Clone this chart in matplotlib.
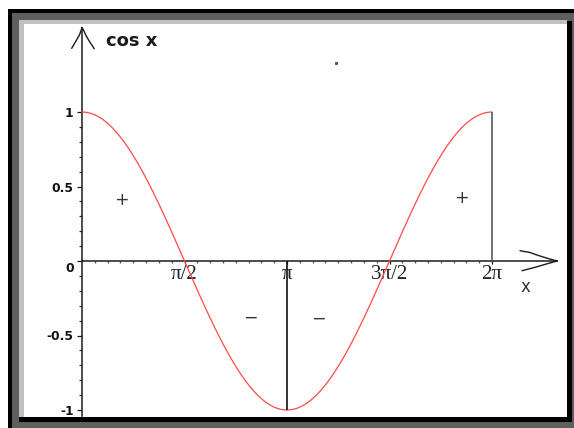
import numpy as np
import matplotlib
matplotlib.use('Agg')
import matplotlib.pyplot as plt
import matplotlib.transforms as mtransforms
from matplotlib.patches import Rectangle
from matplotlib.ticker import FixedLocator

# ── Data ──────────────────────────────────────────────────────────────
x = np.linspace(0, 2 * np.pi, 400)
y = np.cos(x)

x_ticks = [np.pi / 2, np.pi, 3 * np.pi / 2, 2 * np.pi]
x_tick_labels = ['π/2', 'π', '3π/2', '2π']
x_minor = np.arange(1, 33) * np.pi / 16

y_ticks = [-1, -0.5, 0, 0.5, 1]
y_tick_labels = ['-1', '-0.5', '0', '0.5', '1']
y_minor = np.round(np.arange(-10, 11) / 10, 1)

# sign annotations (where cos x is positive / negative)
sign_text = ['+', '−', '−', '+']
sign_x = [0.60, 2.575, 3.62, 5.81]
sign_y = [0.41, -0.378, -0.385, 0.423]

# drop lines at x = pi and x = 2pi
drop_x = [np.pi, 2 * np.pi]
drop_colors = ['#111111', '#5a5a5a']

stray_dot = (3.89, 1.33)

# ── Figure / axes geometry (pixels) ───────────────────────────────────
W, H = 574, 428
ORIGIN_PX = (82, 261)
PX_PER_X = 410 / (2 * np.pi)
PX_PER_Y = 149

fig = plt.figure(figsize=(W / 100, H / 100), dpi=100, facecolor='white')
ax = fig.add_axes([0, 0, 1, 1])
ax.patch.set_visible(False)
ax.set_xlim(-ORIGIN_PX[0] / PX_PER_X, (W - ORIGIN_PX[0]) / PX_PER_X)
ax.set_ylim(-(H - ORIGIN_PX[1]) / PX_PER_Y, ORIGIN_PX[1] / PX_PER_Y)


def frame_box(x0, y0, x1, y1, color):
    fig.add_artist(Rectangle((x0 / W, 1 - y1 / H), (x1 - x0) / W,
                             (y1 - y0) / H, transform=fig.transFigure,
                             facecolor=color, edgecolor='none', zorder=-5))


# bevelled window frame
frame_box(8, 9, 574, 428, '#5f5f5f')
frame_box(8, 9, 574, 13, '#000000')
frame_box(8, 9, 12, 428, '#000000')
frame_box(19, 20, 567, 24, '#c0c0c0')
frame_box(19, 20, 24, 417, '#c0c0c0')
frame_box(567, 21, 572, 422, '#000000')
frame_box(19, 417, 572, 422, '#000000')
frame_box(24, 24, 567, 417, '#fefefe')

# ── Axes through the origin ───────────────────────────────────────────
x_tip = (557 - ORIGIN_PX[0]) / PX_PER_X
y_tip = (ORIGIN_PX[1] - 27.5) / PX_PER_Y
axis_color = '#1c1c1c'
for side in ('top', 'right'):
    ax.spines[side].set_visible(False)
ax.spines['left'].set_position(('data', 0))
ax.spines['bottom'].set_position(('data', 0))
ax.spines['left'].set_bounds(-1.04, y_tip)
ax.spines['bottom'].set_bounds(0, x_tip)
for side in ('left', 'bottom'):
    ax.spines[side].set_color(axis_color)
    ax.spines[side].set_linewidth(1.1)

ax.xaxis.set_major_locator(FixedLocator(x_ticks))
ax.xaxis.set_minor_locator(FixedLocator(x_minor))
ax.set_xticklabels(x_tick_labels, family='Liberation Serif', fontsize=15,
                   color='#222222')
ax.yaxis.set_major_locator(FixedLocator(y_ticks))
ax.yaxis.set_minor_locator(FixedLocator(y_minor))
ax.set_yticklabels(y_tick_labels, family='DejaVu Sans', fontsize=8.8,
                   fontweight='bold', color='#111111')

ax.tick_params(axis='x', which='major', direction='out', length=2.5,
               width=0.9, color=axis_color, pad=0.5)
ax.tick_params(axis='x', which='minor', direction='out', length=1.6,
               width=0.9, color='#555555')
ax.tick_params(axis='y', which='major', direction='out', length=3.6,
               width=0.9, color=axis_color, pad=2.5)
ax.tick_params(axis='y', which='minor', direction='out', length=2.4,
               width=0.9, color='#333333')

# nudge the "0" label below the x axis
for tick, val in zip(ax.yaxis.get_major_ticks(), y_ticks):
    if val == 0:
        tick.label1.set_transform(
            tick.label1.get_transform()
            + mtransforms.ScaledTranslation(0, -0.06, fig.dpi_scale_trans))

# curved arrowheads, offsets in pixels from the tip
def arrow_barb(tip, pts, **kw):
    trans = fig.dpi_scale_trans + mtransforms.ScaledTranslation(
        tip[0], tip[1], ax.transData)
    px = np.array(pts, dtype=float) / 100
    ax.plot(px[:, 0], px[:, 1], transform=trans, clip_on=False, **kw)


barb_kw = dict(color=axis_color, linewidth=1.0, solid_capstyle='round')
arrow_barb((0, y_tip), [(-10.3, -20.8), (-6, -13.4), (-2.7, -7.7),
                        (-0.7, -2.4), (0, 0)], **barb_kw)
arrow_barb((0, y_tip), [(12.3, -21.3), (7.3, -13.7), (4, -8),
                        (1.3, -2.2), (0, 0)], **barb_kw)
arrow_barb((x_tip, 0), [(-37, 10.3), (-27, 8.5), (-20, 6), (-10, 2.8),
                        (0, 0)], **barb_kw)
arrow_barb((x_tip, 0), [(-35, -9.7), (-23, -6.6), (-12, -3.4),
                        (0, 0)], **barb_kw)

# ── Curve and annotations ─────────────────────────────────────────────
ax.plot(x, y, color='#ff4a4a', linewidth=0.9, zorder=3)

for xd, c in zip(drop_x, drop_colors):
    ax.vlines(xd, min(0, np.cos(xd)), max(0, np.cos(xd)), color=c,
              linewidth=1.2, zorder=4)

for t, sx, sy in zip(sign_text, sign_x, sign_y):
    ax.text(sx, sy, t, family='DejaVu Sans', fontsize=12.5,
            color='#333333', ha='center', va='center')

ax.text((106 - ORIGIN_PX[0]) / PX_PER_X, (ORIGIN_PX[1] - 41) / PX_PER_Y,
        'cos x', family='DejaVu Sans', fontsize=13, fontweight='bold',
        color='#1a1a1a', ha='left', va='center')
ax.text((525 - ORIGIN_PX[0]) / PX_PER_X, (ORIGIN_PX[1] - 287) / PX_PER_Y,
        'x', family='DejaVu Sans', fontsize=12, color='#333333',
        ha='center', va='center')
ax.plot(*stray_dot, marker='s', markersize=1.2, color='#555555')

fig.savefig('out.png', dpi=100)
